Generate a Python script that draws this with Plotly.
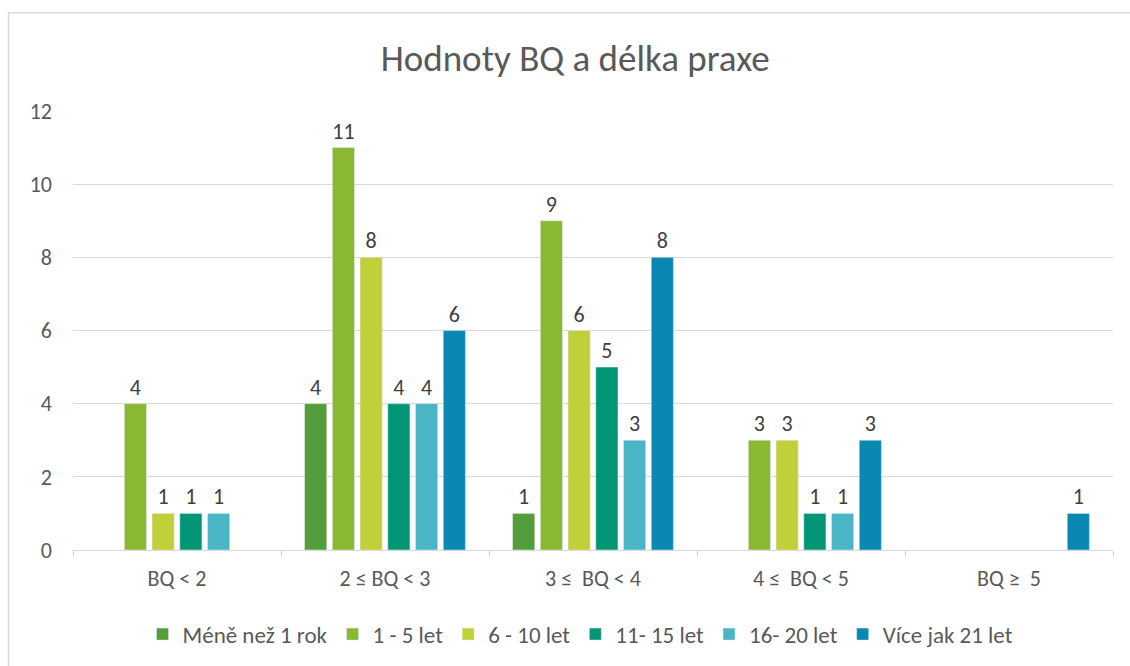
import plotly.graph_objects as go

categories = ["BQ < 2", "2 ≤ BQ < 3", "3 ≤  BQ < 4", "4 ≤  BQ < 5", "BQ ≥  5"]
series_names = ["Méně než 1 rok", "1 - 5 let", "6 - 10 let", "11- 15 let", "16- 20 let", "Více jak 21 let"]
mene_nez_1 = [None, 4, 1, None, None]
let_1_5 = [4, 11, 9, 3, None]
let_6_10 = [1, 8, 6, 3, None]
let_11_15 = [1, 4, 5, 1, None]
let_16_20 = [1, 4, 3, 1, None]
vice_21 = [None, 6, 8, 3, 1]
colors = ["#549E39", "#8AB833", "#C0CF3A", "#029676", "#4AB5C4", "#0989B1"]

FONT = "Carlito, Lato, sans-serif"
fig = go.Figure()
for name, vals, col in zip(series_names, [mene_nez_1, let_1_5, let_6_10, let_11_15, let_16_20, vice_21], colors):
    fig.add_trace(go.Bar(
        x=categories, y=vals, name=name, marker_color=col,
        text=[("" if v is None else str(v)) for v in vals],
        textposition="outside", textfont=dict(size=22, color="#404040", family=FONT),
        cliponaxis=False,
    ))

fig.update_layout(
    width=1130, height=666,
    margin=dict(l=73, r=17, t=111, b=115),
    paper_bgcolor="white", plot_bgcolor="white",
    barmode="group", bargap=0.2, bargroupgap=0.2,
    font=dict(family=FONT, color="#595959", size=22),
    title=dict(text="Hodnoty BQ a délka praxe", x=0.509, xref="container", y=0.913, yref="container",
               xanchor="center", yanchor="middle",
               font=dict(size=37, color="#595959", family=FONT, weight=300)),
    showlegend=True,
    legend=dict(orientation="h", x=0.488, xanchor="center", y=-0.189, yanchor="middle",
                font=dict(size=23, color="#595959")),
    xaxis=dict(showline=True, linecolor="#D9D9D9", linewidth=1, ticks="outside", tickson="boundaries",
               ticklen=6, tickcolor="#D9D9D9", showgrid=False, tickfont=dict(size=22, color="#595959"),
               ticklabelstandoff=9),
    yaxis=dict(range=[0, 12], dtick=2, showgrid=True, gridcolor="#D9D9D9", gridwidth=1,
               zeroline=False, showline=False, tickfont=dict(size=22, color="#595959"),
               ticklabelstandoff=20),
    shapes=[dict(type="rect", xref="paper", yref="paper", x0=(8.5-73)/1040, x1=(1140-73)/1040,
                 y0=(551-680)/440, y1=(551-12.5)/440, line=dict(color="#D9D9D9", width=1.5),
                 fillcolor="rgba(0,0,0,0)", layer="below")],
)

fig.write_html("out.html", config={"displayModeBar": False},
               post_script="document.body.style.margin='0';")
